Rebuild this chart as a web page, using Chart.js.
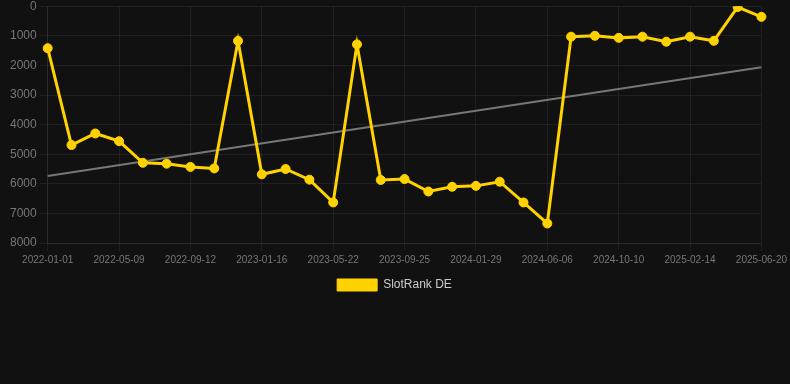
<!DOCTYPE html>
<html>
<head>
  <meta charset="UTF-8">
  <title>SlotRank DE</title>
  <style>
    html, body {
      margin: 0;
      padding: 0;
      background: #111111;
      overflow: hidden;
    }
    #wrap {
      width: 790px;
      height: 305px;
      margin-top: -4px;
    }
  </style>
</head>
<body>
  <div id="wrap"><canvas id="rankChart"></canvas></div>

  <script src="https://cdn.jsdelivr.net/npm/chart.js"></script>
  <script>
    // Dates of each rank snapshot
    const dates = [
      '2022-01-01', '2022-02-12', '2022-03-26', '2022-05-09', '2022-06-20',
      '2022-08-01', '2022-09-12', '2022-10-24', '2022-12-05', '2023-01-16',
      '2023-02-27', '2023-04-10', '2023-05-22', '2023-07-03', '2023-08-14',
      '2023-09-25', '2023-11-06', '2023-12-18', '2024-01-29', '2024-03-11',
      '2024-04-22', '2024-06-06', '2024-07-18', '2024-08-29', '2024-10-10',
      '2024-11-21', '2025-01-03', '2025-02-14', '2025-03-28', '2025-05-09',
      '2025-06-20'
    ];

    // Rank values (lower is better)
    const ranks = [
      1420, 4690, 4300, 4560, 5290, 5320, 5430, 5480, 1170, 5680,
      5500, 5860, 6630, 1290, 5870, 5840, 6260, 6100, 6070, 5930,
      6630, 7340, 1030, 1000, 1070, 1030, 1200, 1030, 1170, 30,
      360
    ];

    // Trend line end points
    const trendStart = 5740;
    const trendEnd = 2060;
    const trend = dates.map((d, i) =>
      i === 0 ? trendStart : (i === dates.length - 1 ? trendEnd : null)
    );

    const gridColor = 'rgba(255, 255, 255, 0.06)';
    const tickColor = '#777';
    const fontFamily = 'Liberation Sans, Arial, sans-serif';

    const ctx = document.getElementById('rankChart').getContext('2d');
    new Chart(ctx, {
      type: 'line',
      data: {
        labels: dates,
        datasets: [{
          label: 'SlotRank DE',
          data: ranks,
          borderColor: '#FFD200',
          backgroundColor: '#FFD200',
          borderWidth: 3,
          pointRadius: 4.5,
          pointBorderWidth: 1,
          pointHoverRadius: 5,
          tension: 0
        }, {
          label: 'trend',
          data: trend,
          spanGaps: true,
          borderColor: '#777',
          borderWidth: 2,
          pointRadius: 0,
          fill: false
        }]
      },
      options: {
        responsive: true,
        maintainAspectRatio: false,
        animation: false,
        layout: { padding: { left: 7, right: 8 } },
        plugins: {
          legend: {
            position: 'bottom',
            labels: {
              color: '#ccc',
              boxWidth: 40,
              boxHeight: 12,
              font: { size: 12, family: fontFamily },
              generateLabels: chart =>
                Chart.defaults.plugins.legend.labels.generateLabels(chart)
                  .map(item => ({ ...item, lineWidth: 1 })),
              filter: item => item.text !== 'trend'
            }
          },
          tooltip: { enabled: false }
        },
        scales: {
          x: {
            grid: { color: gridColor },
            border: { color: gridColor },
            ticks: {
              color: tickColor,
              font: { size: 10, family: fontFamily },
              maxRotation: 0,
              autoSkip: true,
              maxTicksLimit: 11
            }
          },
          y: {
            reverse: true,
            min: 0,
            max: 8000,
            grid: { color: gridColor },
            border: { color: gridColor },
            ticks: {
              color: tickColor,
              stepSize: 1000,
              font: { size: 12, family: fontFamily },
              callback: value => String(value)
            }
          }
        }
      }
    });
  </script>
</body>
</html>
